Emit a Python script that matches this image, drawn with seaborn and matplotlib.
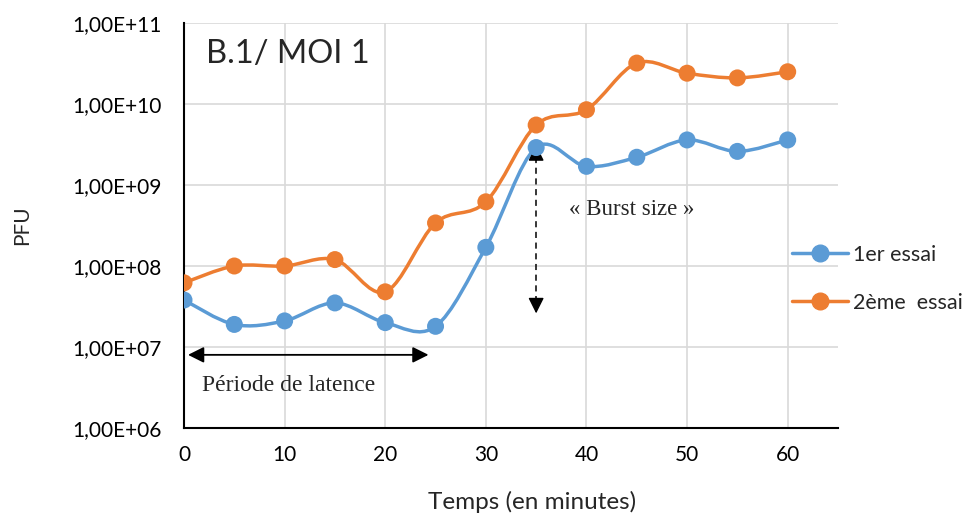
import numpy as np
import matplotlib
matplotlib.use("Agg")
import matplotlib.pyplot as plt
import seaborn as sns
from matplotlib.path import Path
from matplotlib.patches import PathPatch
from matplotlib.lines import Line2D

# -------------------------------------------------
# Data
# -------------------------------------------------
temps = [0, 5, 10, 15, 20, 25, 30, 35, 40, 45, 50, 55, 60]
essai_1 = [3.8e7, 1.9e7, 2.1e7, 3.5e7, 2.0e7, 1.8e7, 1.7e8,
           2.9e9, 1.7e9, 2.2e9, 3.6e9, 2.6e9, 3.6e9]
essai_2 = [6.2e7, 1.0e8, 1.0e8, 1.2e8, 4.8e7, 3.4e8, 6.2e8,
           5.5e9, 8.5e9, 3.2e10, 2.4e10, 2.1e10, 2.5e10]
series_names = ["1er essai", "2ème  essai"]
series_colors = ["#5B9BD5", "#ED7D31"]
y_ticks = [1e6, 1e7, 1e8, 1e9, 1e10, 1e11]
y_tick_labels = ["1,00E+06", "1,00E+07", "1,00E+08",
                 "1,00E+09", "1,00E+10", "1,00E+11"]
x_ticks = [0, 10, 20, 30, 40, 50, 60]

sns.set_theme(style="white")
plt.rcParams["font.family"] = ["Lato", "DejaVu Sans"]
plt.rcParams["ytick.major.pad"] = 16
plt.rcParams["xtick.major.pad"] = 12


def smooth_path(x, y):
    """Excel-like smoothed line: cubic Bezier through points (log-y space)."""
    px = np.asarray(x, float)
    py = np.log10(np.asarray(y, float))
    n = len(px)
    verts = [(px[0], py[0])]
    codes = [Path.MOVETO]
    for i in range(n - 1):
        i0, i3 = max(i - 1, 0), min(i + 2, n - 1)
        c1 = (px[i] + (px[i + 1] - px[i0]) / 6, py[i] + (py[i + 1] - py[i0]) / 6)
        c2 = (px[i + 1] - (px[i3] - px[i]) / 6, py[i + 1] - (py[i3] - py[i]) / 6)
        verts += [c1, c2, (px[i + 1], py[i + 1])]
        codes += [Path.CURVE4] * 3
    verts = [(vx, 10 ** vy) for vx, vy in verts]
    return Path(verts, codes)


fig = plt.figure(figsize=(9.67, 5.15), dpi=100)
ax = fig.add_axes([184 / 967, 1 - 428 / 515, (838 - 184) / 967, (428 - 23) / 515])
ax.set_yscale("log")

for vals, col in zip([essai_1, essai_2], series_colors):
    ax.add_patch(PathPatch(smooth_path(temps, vals), fill=False,
                           edgecolor=col, lw=2.5, zorder=3,
                           transform=ax.transData, capstyle="round"))
    sns.scatterplot(x=temps, y=vals, color=col, s=150, edgecolor="none",
                    zorder=4, ax=ax, legend=False)

ax.set_xlim(0, 65)
ax.set_ylim(1e6, 1e11)
ax.set_yticks(y_ticks)
ax.set_yticklabels(y_tick_labels)
ax.minorticks_off()
ax.set_xticks(x_ticks)
ax.set_xticklabels([str(t) for t in x_ticks])
ax.tick_params(axis="both", length=0, labelsize=15, colors="black")
ax.tick_params(axis="y", pad=16)
ax.tick_params(axis="x", pad=12)
ax.grid(True, color="#d9d9d9", lw=1.2)
ax.set_axisbelow(True)
for side in ["top", "right"]:
    ax.spines[side].set_visible(False)
for side in ["left", "bottom"]:
    ax.spines[side].set_color("black")
    ax.spines[side].set_linewidth(1.5)

fig.text(22 / 967, 1 - 225 / 515, "PFU", rotation=90, ha="center",
         va="center", fontsize=15)
fig.text(532 / 967, 1 - 502 / 515, "Temps (en minutes)", ha="center",
         va="center", fontsize=17.5)

ax.text(2.2, 10 ** 10.62, "B.1/ MOI 1", fontsize=23.5, ha="left", va="center")

# latency period arrow
ax.annotate("", xy=(24.3, 8e6), xytext=(0.4, 8e6),
            arrowprops=dict(arrowstyle="<|-|>", color="black", lw=1.3,
                            mutation_scale=24, shrinkA=0, shrinkB=0))
ax.text(1.8, 10 ** 6.52, "Période de latence", family="Liberation Serif",
        fontsize=17, ha="left", va="center")

# burst size arrow
ax.plot([35, 35], [2.2e9, 3.6e7], color="black", lw=1.1, ls=(0, (4, 3)))
ax.annotate("", xy=(35, 3.1e9), xytext=(35, 2.0e9),
            arrowprops=dict(arrowstyle="-|>", color="black", lw=1,
                            mutation_scale=24, shrinkA=0, shrinkB=0))
ax.annotate("", xy=(35, 2.6e7), xytext=(35, 4.0e7),
            arrowprops=dict(arrowstyle="-|>", color="black", lw=1,
                            mutation_scale=24, shrinkA=0, shrinkB=0))
ax.text(44.5, 10 ** 8.70, "« Burst size »", family="Liberation Serif",
        fontsize=16.5, ha="center", va="center")

handles = [Line2D([], [], color=c, lw=2.5, marker="o", markersize=12)
           for c in series_colors]
fig.legend(handles, series_names, loc="center left",
           bbox_to_anchor=(792 / 967, 1 - 279 / 515), frameon=False,
           fontsize=15.5, handlelength=2.6, handletextpad=0.25,
           labelspacing=1.3, borderpad=0, borderaxespad=0)

fig.savefig("out.png", dpi=100)
plt.close(fig)
